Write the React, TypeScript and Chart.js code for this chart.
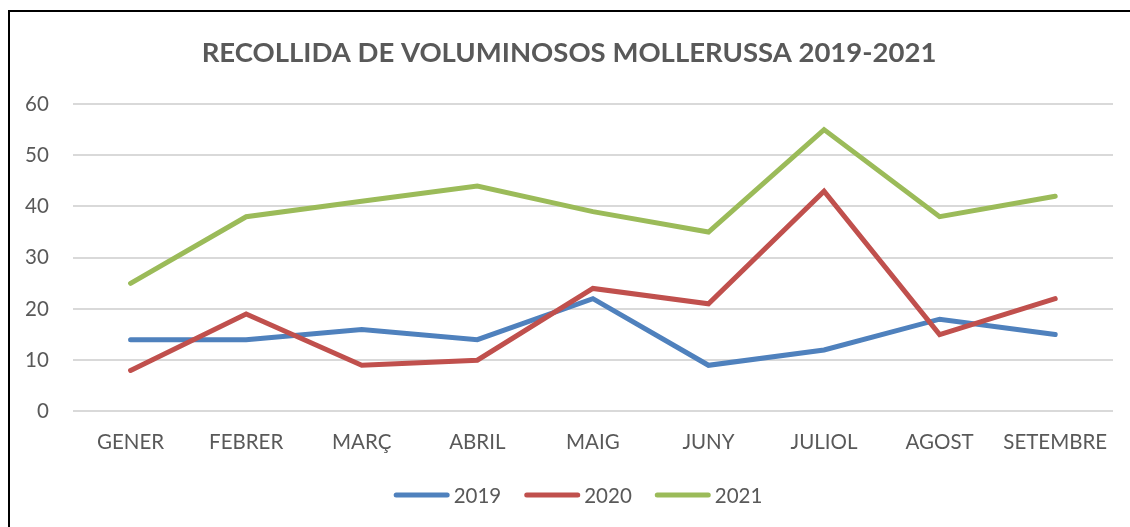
import { useEffect, useRef } from 'react';
import { Chart, registerables } from 'chart.js';
Chart.register(...registerables);

const categories = ['GENER', 'FEBRER', 'MARÇ', 'ABRIL', 'MAIG', 'JUNY', 'JULIOL', 'AGOST', 'SETEMBRE'];
const values2019 = [14, 14, 16, 14, 22, 9, 12, 18, 15];
const values2020 = [8, 19, 9, 10, 24, 21, 43, 15, 22];
const values2021 = [25, 38, 41, 44, 39, 35, 55, 38, 42];
const yTicks = [0, 10, 20, 30, 40, 50, 60];
const titleText = 'RECOLLIDA DE VOLUMINOSOS MOLLERUSSA 2019-2021';

const FONT = 'Lato, "Open Sans", sans-serif';
const TEXT = '#595959';

const lineLegend = {
  id: 'lineLegend',
  afterDraw(chart: any) {
    const ctx = chart.ctx;
    const lineLen = 51;
    const gap = 6.5;
    const itemGap = 23;
    ctx.save();
    ctx.font = `20.5px ${FONT}`;
    const items = chart.data.datasets.map((d: any) => ({
      text: d.label,
      color: d.borderColor,
      w: ctx.measureText(d.label).width,
    }));
    const total =
      items.reduce((s: number, it: any) => s + 2.5 + lineLen + 2.5 + gap - 2.5 + it.w, 0) + itemGap * (items.length - 1);
    let x = chart.width / 2 + 8 - total / 2 + 2.5;
    const y = chart.height - 32;
    items.forEach((it: any) => {
      ctx.beginPath();
      ctx.strokeStyle = it.color;
      ctx.lineWidth = 5;
      ctx.lineCap = 'round';
      ctx.moveTo(x, y);
      ctx.lineTo(x + lineLen, y);
      ctx.stroke();
      ctx.fillStyle = TEXT;
      ctx.textAlign = 'left';
      ctx.textBaseline = 'middle';
      ctx.fillText(it.text, x + lineLen + gap, y + 1);
      x += lineLen + gap + it.w + itemGap + 2.5;
    });
    ctx.restore();
  },
};

export default function App() {
  const ref = useRef<HTMLCanvasElement | null>(null);
  useEffect(() => {
    document.body.style.overflow = 'hidden';
    const ctx = ref.current!;
    const mk = (label: string, data: number[], color: string, order: number) => ({
      label,
      data,
      borderColor: color,
      backgroundColor: color,
      borderWidth: 5,
      pointRadius: 0,
      borderCapStyle: 'round' as const,
      borderJoinStyle: 'miter' as const,
      tension: 0,
      order,
    });
    const chart = new Chart(ctx, {
      type: 'line',
      data: {
        labels: categories,
        datasets: [
          mk('2019', values2019, '#4F81BD', 3),
          mk('2020', values2020, '#C0504D', 2),
          mk('2021', values2021, '#9BBB59', 1),
        ],
      },
      plugins: [lineLegend],
      options: {
        animation: false,
        responsive: false,
        maintainAspectRatio: false,
        layout: { padding: { left: 15, right: 17, top: 25, bottom: 66 } },
        plugins: {
          title: {
            display: true,
            text: titleText,
            color: TEXT,
            font: { family: FONT, size: 27.5, weight: 'bold' },
            padding: { top: 0, bottom: 34 },
          },
          legend: { display: false },
          tooltip: { enabled: false },
        },
        scales: {
          x: {
            offset: true,
            grid: { display: false, drawTicks: false },
            border: { display: false },
            ticks: { color: TEXT, font: { family: FONT, size: 20.5 }, padding: 19, maxRotation: 0 },
            afterFit: (axis: any) => {
              axis.paddingLeft = 0;
              axis.paddingRight = 0;
              axis.height = axis.height - 13;
            },
          },
          y: {
            min: 0,
            max: 60,
            afterBuildTicks: (axis: any) => {
              axis.ticks = yTicks.map((v) => ({ value: v }));
            },
            afterFit: (axis: any) => {
              axis.width = axis.width - 24;
            },
            grid: { color: '#d9d9d9', lineWidth: 2, drawTicks: false },
            border: { display: false },
            ticks: { color: TEXT, font: { family: FONT, size: 20.5 }, padding: 24 },
          },
        },
      },
    });
    return () => chart.destroy();
  }, []);
  return (
    <div
      style={{
        position: 'absolute',
        left: 8,
        top: 10,
        width: 1140,
        height: 540,
        border: '2px solid #000',
        background: '#fff',
      }}
    >
      <canvas ref={ref} width={1120} height={515} style={{ display: 'block', width: 1120, height: 515 }} />
    </div>
  );
}
